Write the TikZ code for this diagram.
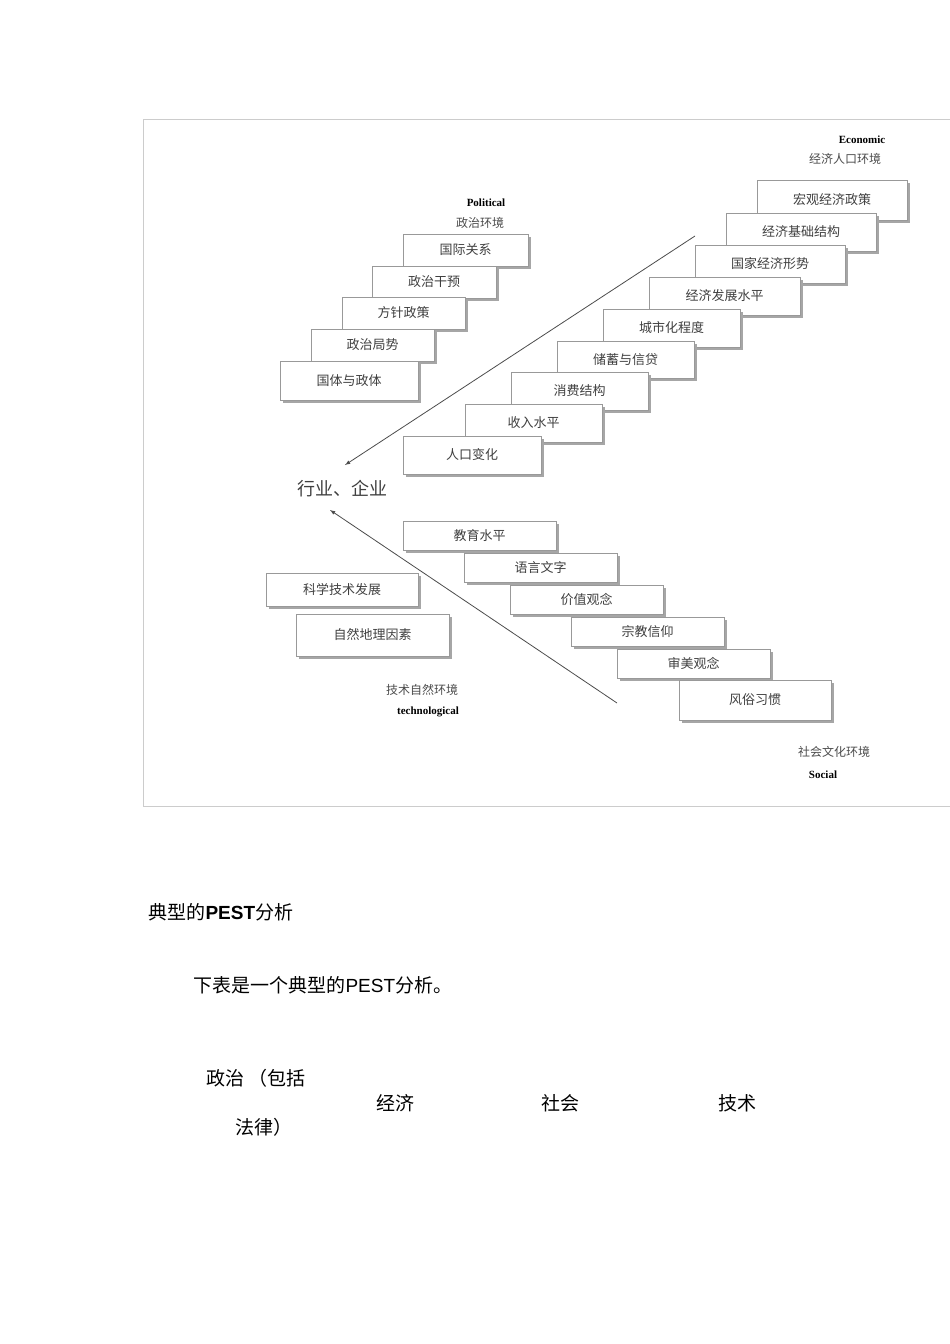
\documentclass[tikz,border=0pt]{standalone}
\usepackage{fontspec}
\setmainfont{Liberation Serif}
\newfontfamily\cjk{Noto Sans CJK SC}
\newfontfamily\hsans{Liberation Sans}
\newcommand{\bx}[6]{%
  \fill[gray!70] (#2+3,#3+3) rectangle (#4+3,#5+3);
  \node[stepbox,minimum width=#4-#2,minimum height=#5-#3] (#1) at ({(#2+#4)/2},{(#3+#5)/2}) {#6};}
\tikzset{stepbox/.style={draw=gray!80,fill=white,line width=0.8pt,inner sep=0pt,font=\cjk\fontsize{13}{13}\selectfont,text=black!75},
 lab/.style={font=\cjk\fontsize{12}{12}\selectfont,text=black!70},
 en/.style={font=\bfseries\fontsize{11}{11}\selectfont},
 arr/.style={draw=black!70,line width=0.8pt,-latex}}
\begin{document}
\begin{tikzpicture}[x=1pt,y=-1pt]
\useasboundingbox (0,0) rectangle (950,1344);
\fill[white] (0,0) rectangle (950,1344);
\draw[gray!40] (143,119) rectangle (950,806);
% Political
\node[en] (pl) at (486,203) {Political};
\node[lab] (pc) at (480,223) {政治环境};
\bx{p1}{403}{234}{528}{266}{国际关系}
\bx{p2}{372}{266}{496}{298}{政治干预}
\bx{p3}{342}{297}{465}{329}{方针政策}
\bx{p4}{311}{329}{434}{361}{政治局势}
\bx{p5}{280}{361}{418}{400}{国体与政体}
% Economic
\node[en] (el) at (862,140) {Economic};
\node[lab] (ec) at (845,159) {经济人口环境};
\bx{e1}{757}{180}{907}{220}{宏观经济政策}
\bx{e2}{726}{213}{876}{251}{经济基础结构}
\bx{e3}{695}{245}{845}{283}{国家经济形势}
\bx{e4}{649}{277}{800}{315}{经济发展水平}
\bx{e5}{603}{309}{740}{347}{城市化程度}
\bx{e6}{557}{341}{694}{378}{储蓄与信贷}
\bx{e7}{511}{372}{648}{410}{消费结构}
\bx{e8}{465}{404}{602}{442}{收入水平}
\bx{e9}{403}{436}{541}{474}{人口变化}
% center
\node[font=\cjk\fontsize{18}{18}\selectfont,text=black!75] (c) at (342,489) {行业、企业};
\coordinate (ea) at (695,236);
\coordinate (sa) at (617,703);
\draw[arr] (ea) -- (345,465);
\draw[arr] (sa) -- (330,510);
% Social
\bx{s1}{403}{521}{556}{550}{教育水平}
\bx{s2}{464}{553}{617}{582}{语言文字}
\bx{s3}{510}{585}{663}{614}{价值观念}
\bx{s4}{571}{617}{724}{646}{宗教信仰}
\bx{s5}{617}{649}{770}{678}{审美观念}
\bx{s6}{679}{680}{831}{720}{风俗习惯}
\node[lab] (sc) at (834,752) {社会文化环境};
\node[en] (sl) at (823,775) {Social};
% Technological
\bx{t1}{266}{573}{418}{606}{科学技术发展}
\bx{t2}{296}{614}{449}{656}{自然地理因素}
\node[lab] (tc) at (422,690) {技术自然环境};
\node[en] (tl) at (428,712) {technological};
% text below
\node[anchor=west,font=\cjk\fontsize{19}{19}\selectfont] (h) at (145,912) {典型的{\hsans\bfseries PEST}分析};
\node[anchor=west,font=\cjk\fontsize{19}{19}\selectfont] (s) at (190,985) {下表是一个典型的{\hsans PEST}分析。};
\node[anchor=west,font=\cjk\fontsize{19}{19}\selectfont] (z1) at (203,1078) {政治 （包括};
\node[anchor=west,font=\cjk\fontsize{19}{19}\selectfont] (z2) at (232,1127) {法律）};
\node[font=\cjk\fontsize{19}{19}\selectfont] (j) at (395,1103) {经济};
\node[font=\cjk\fontsize{19}{19}\selectfont] (sh) at (560,1103) {社会};
\node[font=\cjk\fontsize{19}{19}\selectfont] (js) at (737,1103) {技术};
\end{tikzpicture}
\end{document}
